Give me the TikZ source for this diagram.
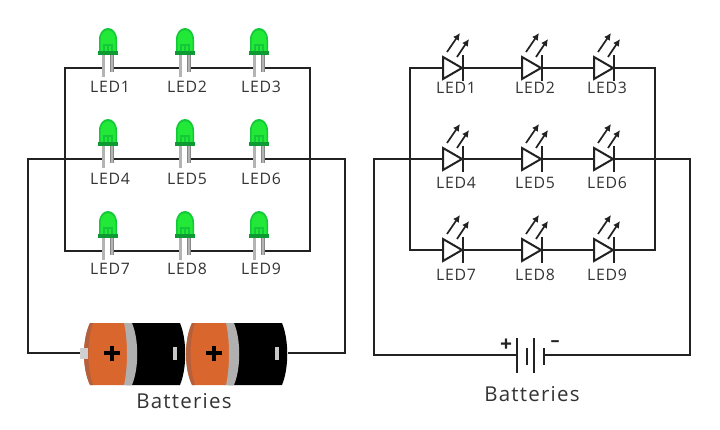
\documentclass[tikz,border=0pt]{standalone}
\usepackage{fontspec}
\setmainfont{Open Sans}
\newfontfamily\spacedfont[LetterSpace=5]{Open Sans}
\newfontfamily\widefont[LetterSpace=6]{Open Sans}
\definecolor{wire}{HTML}{222222}
\definecolor{ledg}{HTML}{22E838}
\definecolor{ledd}{HTML}{14C83A}
\definecolor{ledf}{HTML}{0E9A33}
\definecolor{leadc}{HTML}{B4B4B4}
\definecolor{orng}{HTML}{D9662D}
\definecolor{orngd}{HTML}{B5603C}
\definecolor{bgrey}{HTML}{B0B0B0}
\definecolor{txt}{HTML}{333333}
\usetikzlibrary{arrows.meta}
\tikzset{
 wirestyle/.style={draw=wire,line width=2pt,line join=miter},
 symline/.style={draw=wire,line width=2pt},
 ledlabel/.style={text=txt,font=\spacedfont\fontsize{15.8}{17}\selectfont,inner sep=0pt},
 batlabel/.style={text=txt,font=\widefont\fontsize{20.5}{22}\selectfont,inner sep=0pt},
 anchorbox/.style={minimum width=8pt,minimum height=20pt,inner sep=0pt,outer sep=0pt},
 diodebox/.style={minimum width=20pt,minimum height=26pt,inner sep=0pt,outer sep=0pt},
 lightarrow/.style={draw=wire,line width=1.7pt,-{Latex[length=7pt,width=7pt]}},
}
\begin{document}
\begin{tikzpicture}[x=1pt,y=-1pt]
\useasboundingbox (0,0) rectangle (720,430);
% ---------- left circuit: positions
\foreach \n/\x/\y in {1/108/68,2/185/68,3/259/68,4/108/159,5/185/159,6/259/159,7/108/251,8/185/251,9/259/251}{
  \node[anchorbox] (L\n) at (\x,\y) {};
}
\coordinate (ltl) at (65,68); \coordinate (ltr) at (310,68);
\coordinate (lbl) at (65,251); \coordinate (lbr) at (310,251);
\coordinate (lml) at (28,159); \coordinate (lmr) at (345,159);
\coordinate (lol) at (28,353); \coordinate (lor) at (345,353);
% battery pack
\node[minimum width=204pt,minimum height=62pt,inner sep=0pt,outer sep=0pt] (pack) at (186,353) {};
% wires
\draw[wirestyle] (L1.west) -- (ltl) -- (lbl) -- (L7.west);
\draw[wirestyle] (L3.east) -- (ltr) -- (lbr) -- (L9.east);
\draw[wirestyle] (L1.east) -- (L2.west) (L2.east) -- (L3.west);
\draw[wirestyle] (L7.east) -- (L8.west) (L8.east) -- (L9.west);
\draw[wirestyle] (L4.west) -- (lml) -- (lol) -- (pack.west);
\draw[wirestyle] (L6.east) -- (lmr) -- (lor) -- (pack.east);
\draw[wirestyle] (L4.east) -- (L5.west) (L5.east) -- (L6.west);
% LED pictures
\foreach \n/\x/\y/\t in {1/108/68/87,2/185/68/87,3/259/68/87,4/108/159/179,5/185/159/179,6/259/159/179,7/108/251/269,8/185/251/269,9/259/251/269}{
  \begin{scope}[shift={(\x,\y)}]
   \draw[leadc!75!black,line width=3.6pt] (-4.5,-16) -- (-4.5,9) (4,-16) -- (4,4);
   \draw[leadc,line width=2.2pt] (-4.5,-16) -- (-4.5,9) (4,-16) -- (4,4);
   \fill[ledd] (-9,-15) -- (-9,-28) .. controls (-9,-44) and (9,-44) .. (9,-28) -- (9,-15) -- cycle;
   \fill[ledg] (-7.5,-15) -- (-7.5,-28) .. controls (-7.5,-41) and (7.5,-41) .. (7.5,-28) -- (7.5,-15) -- cycle;
   \fill[ledd] (-5,-24) rectangle (5,-14);
   \fill[ledg] (-3,-22) rectangle (-1,-15);
   \fill[ledg] (1,-22) rectangle (3,-15);
   \fill[ledf] (-10,-16.5) rectangle (10,-13);
  \end{scope}
  \node[ledlabel] (Lt\n) at (\x+2,\t) {LED\n};
}
% batteries
\foreach \o in {0,102}{
  \begin{scope}[shift={(\o,0)}]
   \fill[black] (127,323) -- (180,323) .. controls (187,340) and (187,368) .. (180,385) -- (127,385) -- cycle;
   \fill[orng] (90,323) -- (128,323) .. controls (130,340) and (130,368) .. (128,385) -- (90,385) .. controls (82,368) and (82,340) .. (90,323) -- cycle;
   \fill[orngd] (90,323) -- (93,323) .. controls (87,340) and (87,368) .. (93,385) -- (90,385) .. controls (82,368) and (82,340) .. (90,323) -- cycle;
   \fill[bgrey] (124,323) -- (132,323) .. controls (139,340) and (139,368) .. (132,385) -- (124,385) .. controls (128,368) and (128,340) .. (124,323) -- cycle;
   \fill[black] (103.5,351) rectangle (119.5,355);
   \fill[black] (109.5,346) rectangle (113.5,361);
   \fill[bgrey!70!white] (173,347) rectangle (177,360);
  \end{scope}
}
\fill[bgrey!60!white] (80,348) rectangle (88,359);
\node[batlabel] (lbat) at (184,401) {Batteries};
% ---------- right circuit
\foreach \n/\x/\y in {1/453/68,2/532/68,3/604/68,4/453/159,5/532/159,6/604/159,7/453/250,8/532/250,9/604/250}{
  \node[diodebox] (D\n) at (\x,\y) {};
}
\coordinate (rtl) at (410,68); \coordinate (rtr) at (655,68);
\coordinate (rbl) at (410,250); \coordinate (rbr) at (655,250);
\coordinate (rml) at (374,159); \coordinate (rmr) at (690,159);
\coordinate (rol) at (374,355); \coordinate (ror) at (690,355);
\node[minimum width=27pt,minimum height=36pt,inner sep=0pt,outer sep=0pt] (bsym) at (530.5,355) {};
\draw[wirestyle] (D1.west) -- (rtl) -- (rbl) -- (D7.west);
\draw[wirestyle] (D3.east) -- (rtr) -- (rbr) -- (D9.east);
\draw[wirestyle] (D1.east) -- (D2.west) (D2.east) -- (D3.west);
\draw[wirestyle] (D7.east) -- (D8.west) (D8.east) -- (D9.west);
\draw[wirestyle] (D4.west) -- (rml) -- (rol) -- (bsym.west);
\draw[wirestyle] (D6.east) -- (rmr) -- (ror) -- (bsym.east);
\draw[wirestyle] (D4.east) -- (D5.west) (D5.east) -- (D6.west);
\foreach \n/\x/\y/\t in {1/453/68/88,2/532/68/88,3/604/68/88,4/453/159/183,5/532/159/183,6/604/159/183,7/453/250/275,8/532/250/275,9/604/250/275}{
  \begin{scope}[shift={(\x,\y)}]
   \draw[symline,fill=white,line join=miter] (-10,-11) -- (9,0) -- (-10,11) -- cycle;
   \draw[symline] (10,-13) -- (10,13);
   \draw[lightarrow] (-6,-16) -- (7,-35);
   \draw[lightarrow] (4,-11) -- (16,-29);
  \end{scope}
  \node[ledlabel] (Dt\n) at (\x+3,\t) {LED\n};
}
% battery symbol
\draw[symline,line width=1.8pt] (517,338) -- (517,373) (534,338) -- (534,373);
\draw[symline,line width=1.8pt] (527,348) -- (527,365) (544,348) -- (544,365);
\node[text=wire,inner sep=0pt,font=\bfseries\fontsize{21}{21}\selectfont] (bplus) at (506,345) {+};
\node[text=wire,inner sep=0pt,font=\bfseries\fontsize{18}{18}\selectfont] (bminus) at (555,344) {–};
\node[batlabel] (rbat) at (532,394) {Batteries};
\end{tikzpicture}
\end{document}
